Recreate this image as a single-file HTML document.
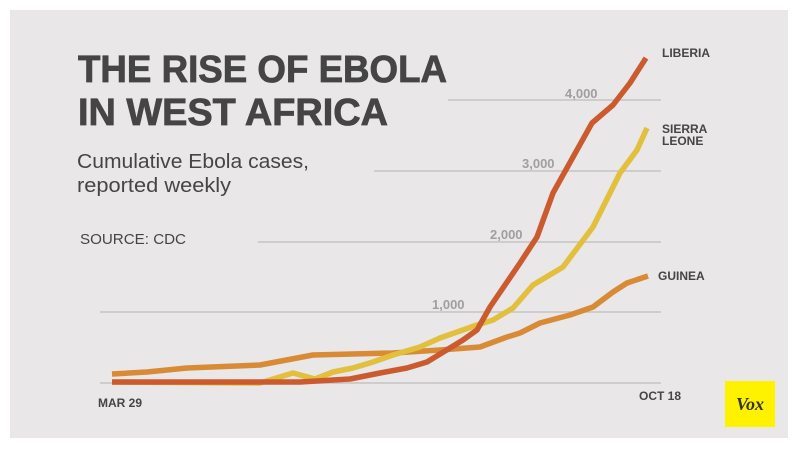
<!DOCTYPE html>
<html><head><meta charset="utf-8"><style>
html,body{margin:0;padding:0;background:#fff;}
svg{display:block;font-family:"Liberation Sans",sans-serif;}
</style></head><body>
<svg width="800" height="450" viewBox="0 0 800 450" xmlns="http://www.w3.org/2000/svg">
<rect x="10" y="10" width="778" height="428" fill="#e9e7e7"/>
<g stroke="#c6c4c4" stroke-width="1.5">
<line x1="100" y1="383" x2="661" y2="383"/>
<line x1="100" y1="312" x2="661" y2="312"/>
<line x1="258" y1="242" x2="661" y2="242"/>
<line x1="374" y1="171" x2="661" y2="171"/>
<line x1="448" y1="100" x2="661" y2="100"/>
</g>
<g fill="#a09e9e" font-weight="bold" font-size="13">
<text x="432" y="309">1,000</text>
<text x="490" y="239">2,000</text>
<text x="522" y="168">3,000</text>
<text x="565" y="98">4,000</text>
</g>
<g fill="#454545">
<text x="78" y="82" font-size="38" font-weight="bold" textLength="369" lengthAdjust="spacingAndGlyphs" stroke="#454545" stroke-width="0.8">THE RISE OF EBOLA</text>
<text x="78" y="125" font-size="38" font-weight="bold" textLength="310" lengthAdjust="spacingAndGlyphs" stroke="#454545" stroke-width="0.8">IN WEST AFRICA</text>
<text x="77" y="168" font-size="20" textLength="232" lengthAdjust="spacingAndGlyphs">Cumulative Ebola cases,</text>
<text x="77" y="192" font-size="20" textLength="154" lengthAdjust="spacingAndGlyphs">reported weekly</text>
<text x="80" y="244" font-size="15" textLength="106" lengthAdjust="spacingAndGlyphs">SOURCE: CDC</text>
<g font-size="12" font-weight="bold">
<text x="98" y="407">MAR 29</text>
<text x="639" y="400">OCT 18</text>
<text x="662" y="57">LIBERIA</text>
<text x="662" y="133">SIERRA</text>
<text x="662" y="145">LEONE</text>
<text x="658" y="280">GUINEA</text>
</g>
</g>
<g fill="none" stroke-width="5.5" stroke-linejoin="round" stroke-linecap="butt">
<polyline stroke="#d88a35" points="112,374 147,372 187,368 260,365 313,355 393,353 440,350 480,347 507,337 520,333 540,323 570,315 593,307 613,292 627,283 648,276"/>
<polyline stroke="#e2bf3c" points="112,382 260,383 293,373 315,379 333,372 353,368 373,362 393,355 420,347 440,338 477,325 493,320 513,308 533,285 563,267 593,227 620,173 637,150 647,128"/>
<polyline stroke="#cb5b2f" points="112,382 300,382 350,379 380,373 407,368 427,362 463,340 477,330 490,307 520,263 537,237 553,193 592,123 613,105 630,83 646,58"/>
</g>
<rect x="725" y="381" width="50" height="46" fill="#fff200"/>
<text x="750" y="410" text-anchor="middle" font-family="Liberation Serif,serif" font-style="italic" font-weight="bold" font-size="18" fill="#333">Vox</text>
</svg>
</body></html>
